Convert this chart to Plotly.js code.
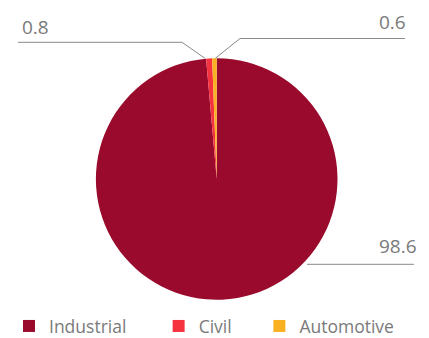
<!DOCTYPE html>
<html>
<head>
<meta charset="utf-8">
<script src="https://cdn.plot.ly/plotly-3.0.1.min.js"></script>
<style>html,body{margin:0;padding:0;background:#fff;}#chart{width:429px;height:338px;}</style>
</head>
<body>
<div id="chart"></div>
<script>
// ---- data ----
const categories = ["Industrial", "Civil", "Automotive"];
const values = [98.6, 0.8, 0.6];
const valueLabels = ["98.6", "0.8", "0.6"];
const colors = ["#990A2C", "#F5333F", "#F9B122"];

// ---- layout constants (pixels) ----
const W = 429, H = 338;
const cx = 216.7, cy = 179, R = 120.8;
const px = x => x / W;
const py = y => 1 - y / H;

// slice mid-angle edge points (clockwise from 12 o'clock)
const total = values.reduce((a, b) => a + b, 0);
let cum = 0;
const edge = values.map(v => {
  const mid = (cum + v / 2) / total * 2 * Math.PI;
  cum += v;
  return [cx + R * Math.sin(mid), cy - R * Math.cos(mid)];
});

const lineStyle = {color: "#8a8a8a", width: 1};
const shapes = [
  // Civil leader
  {type: "path", xref: "paper", yref: "paper", line: lineStyle,
   path: `M${px(edge[1][0]-4)},${py(edge[1][1])} L${px(182)},${py(42.3)} L${px(18)},${py(42.3)}`},
  // Automotive leader
  {type: "path", xref: "paper", yref: "paper", line: lineStyle,
   path: `M${px(edge[2][0]+1)},${py(edge[2][1])} L${px(240)},${py(38.5)} L${px(405)},${py(38.5)}`},
  // Industrial leader
  {type: "line", xref: "paper", yref: "paper", line: lineStyle,
   x0: px(307), y0: py(264.3), x1: px(414), y1: py(264.3)}
];

const labelFont = {family: "Open Sans, sans-serif", size: 19, color: "#7a7a7a"};
const annotations = [
  {text: valueLabels[1], x: px(20.5), y: py(41), xanchor: "left", yanchor: "bottom"},
  {text: valueLabels[2], x: px(407), y: py(35.5), xanchor: "right", yanchor: "bottom"},
  {text: valueLabels[0], x: px(417.5), y: py(259.5), xanchor: "right", yanchor: "bottom"}
].map(a => Object.assign({xref: "paper", yref: "paper", showarrow: false, font: labelFont, borderpad: 0}, a));

// legend spacing: pad entries with no-break spaces (visual gap only)
const pads = [6, 5, 0];
const legendLabels = categories.map((c, i) => c + "\u00A0".repeat(pads[i]));

const trace = {
  type: "pie",
  labels: legendLabels,
  values: values,
  sort: false,
  direction: "clockwise",
  rotation: 0,
  textinfo: "none",
  hoverinfo: "skip",
  marker: {colors: colors, line: {width: 0}},
  domain: {x: [px(cx - R), px(cx + R)], y: [py(cy + R), py(cy - R)]}
};

const layout = {
  width: W, height: H,
  margin: {l: 0, r: 0, t: 0, b: 0, autoexpand: false},
  paper_bgcolor: "#fff",
  showlegend: true,
  legend: {
    orientation: "h", x: px(9), xanchor: "left", y: -0.018, yanchor: "bottom",
    font: {family: "Open Sans, sans-serif", size: 17.5, color: "#7a7a7a"},
    itemclick: false, itemdoubleclick: false
  },
  shapes: shapes,
  annotations: annotations
};

Plotly.newPlot("chart", [trace], layout, {staticPlot: true, displayModeBar: false});
</script>
</body>
</html>
